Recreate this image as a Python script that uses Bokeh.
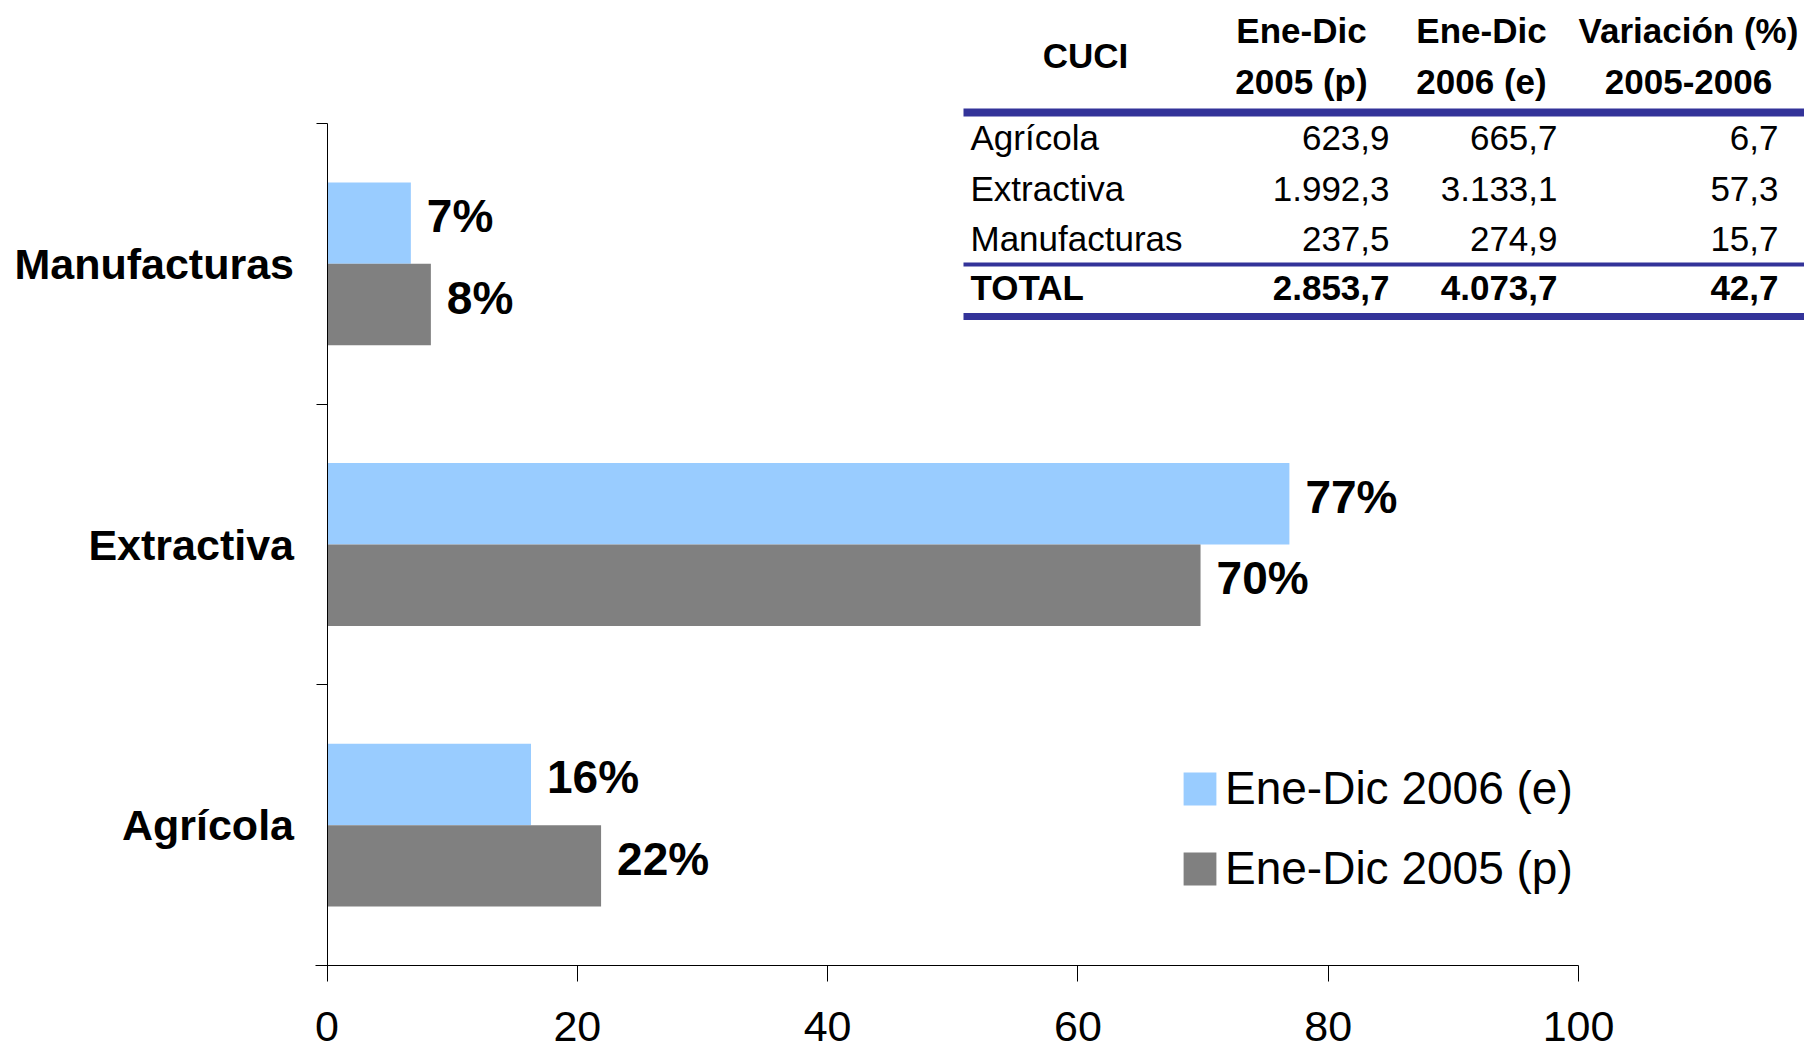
from bokeh.plotting import figure
from bokeh.models import Range1d, FixedTicker, Legend, LegendItem
from bokeh.core.properties import value
from bokeh.embed import file_html
from bokeh.resources import INLINE
import numpy as np

# ---------------- data ----------------
categories = ["Agrícola", "Extractiva", "Manufacturas"]
share_2006 = [16.3, 76.9, 6.7]      # Ene-Dic 2006 (e), %
share_2005 = [21.9, 69.8, 8.3]      # Ene-Dic 2005 (p), %
x_ticks = [0, 20, 40, 60, 80, 100]
series_labels = ["Ene-Dic 2006 (e)", "Ene-Dic 2005 (p)"]

table_head_first = "CUCI"
table_head_line1 = ["Ene-Dic", "Ene-Dic", "Variación (%)"]
table_head_line2 = ["2005 (p)", "2006 (e)", "2005-2006"]
table_rows = ["Agrícola", "Extractiva", "Manufacturas"]
table_2005 = [623.9, 1992.3, 237.5]
table_2006 = [665.7, 3133.1, 274.9]
table_var = [6.7, 57.3, 15.7]
total_label = "TOTAL"
total_2005 = 2853.7
total_2006 = 4073.7
total_var = 42.7

# ---------------- geometry (canvas pixels) ----------------
W, H = 1804, 1056
X0, X100 = 326.5, 1578.0     # pixel position of x=0 and x=100
Y0, Y3 = 965.0, 123.0        # pixel position of y=0 and y=3
FONT = "Liberation Sans"
LIGHT = "#99CCFF"
DARK = "#808080"
NAVY = "#333399"

sx = (X100 - X0) / 100.0
sy = (Y0 - Y3) / 3.0

p = figure(width=W, height=H, output_backend="svg", toolbar_location=None,
           x_range=Range1d(-X0 / sx, (W - X0) / sx),
           y_range=Range1d(-(H - Y0) / sy, Y0 / sy),
           min_border=0)
p.outline_line_color = None
p.xgrid.visible = False
p.ygrid.visible = False
p.background_fill_color = "white"
p.border_fill_color = "white"

# pixel coordinate ranges for the table (top-down y)
p.extra_x_ranges["px"] = Range1d(0, W)
p.extra_y_ranges["px"] = Range1d(H, 0)

# ---------------- bars ----------------
centers = np.arange(len(categories)) + 0.5
bar_h = 0.29
y06 = centers + bar_h / 2
y05 = centers - bar_h / 2

r06 = p.hbar(y=y06, left=0, right=share_2006, height=bar_h,
             fill_color=LIGHT, line_color=None)
r05 = p.hbar(y=y05, left=0, right=share_2005, height=bar_h,
             fill_color=DARK, line_color=None)

for ys, vals in ((y06, share_2006), (y05, share_2005)):
    p.text(x=vals, y=ys, text=[f"{round(v)}%" for v in vals],
           x_offset=16, y_offset=-7, text_baseline="middle", text_align="left",
           text_font=value(FONT), text_font_style="bold",
           text_font_size="46px", text_color="black")

# ---------------- axes ----------------
xa = p.xaxis[0]
xa.fixed_location = 0
xa.ticker = FixedTicker(ticks=x_ticks)
xa.bounds = (-0.9, 100)
xa.major_tick_out = 16
xa.major_tick_in = 0
xa.minor_tick_out = 0
xa.minor_tick_in = 0
xa.axis_line_color = "black"
xa.major_tick_line_color = "black"
xa.major_label_text_font = FONT
xa.major_label_text_font_size = "43px"
xa.major_label_text_color = "black"
xa.major_label_standoff = 30

ya = p.yaxis[0]
ya.fixed_location = 0
ya.ticker = FixedTicker(ticks=list(centers),
                        minor_ticks=list(np.arange(len(categories) + 1)))
ya.bounds = (0, len(categories))
ya.major_label_overrides = {float(c): name for c, name in zip(centers, categories)}
ya.major_tick_out = 0
ya.major_tick_in = 0
ya.minor_tick_out = 11
ya.minor_tick_in = 0
ya.axis_line_color = "black"
ya.minor_tick_line_color = "black"
ya.major_label_text_font = FONT
ya.major_label_text_font_style = "bold"
ya.major_label_text_font_size = "43px"
ya.major_label_text_color = "black"
ya.major_label_standoff = 22

# ---------------- legend ----------------
legend = Legend(items=[LegendItem(label=series_labels[0], renderers=[r06]),
                       LegendItem(label=series_labels[1], renderers=[r05])],
                location=(1179, 161), orientation="vertical",
                glyph_width=41, glyph_height=41, label_standoff=5,
                spacing=26, padding=0, margin=0,
                border_line_color=None, background_fill_alpha=0,
                label_text_font=FONT, label_text_font_size="46px",
                label_text_color="black")
p.add_layout(legend)

# ---------------- table ----------------
def es(v):
    s = f"{v:,.1f}"
    return s.replace(",", "X").replace(".", ",").replace("X", ".")

TX = dict(x_range_name="px", y_range_name="px", text_font=value(FONT),
          text_color="black", text_baseline="middle")

col_centers = [1301, 1481, 1688]
col_rights = [1389, 1557, 1778]
row_ys = [137, 188, 238]
total_y = 287
label_x = 970

p.text(x=[1085], y=[55], text=[table_head_first], text_align="center",
       text_font_style="bold", text_font_size="35px", **TX)
p.text(x=col_centers, y=[30] * 3, text=table_head_line1, text_align="center",
       text_font_style="bold", text_font_size="35px", **TX)
p.text(x=col_centers, y=[81] * 3, text=table_head_line2, text_align="center",
       text_font_style="bold", text_font_size="35px", **TX)

p.text(x=[label_x] * len(table_rows), y=row_ys, text=table_rows,
       text_align="left", text_font_size="35px", **TX)
for cx, vals in zip(col_rights, (table_2005, table_2006, table_var)):
    p.text(x=[cx] * len(vals), y=row_ys, text=[es(v) for v in vals],
           text_align="right", text_font_size="35px", **TX)

p.text(x=[label_x], y=[total_y], text=[total_label], text_align="left",
       text_font_style="bold", text_font_size="35px", **TX)
p.text(x=col_rights, y=[total_y] * 3,
       text=[es(total_2005), es(total_2006), es(total_var)],
       text_align="right", text_font_style="bold", text_font_size="35px", **TX)

p.segment(x0=[963, 963, 963], y0=[112, 264, 316], x1=[W, W, W], y1=[112, 264, 316],
          line_width=[8, 4, 7], line_color=NAVY,
          x_range_name="px", y_range_name="px")

open("out.html", "w").write(file_html(p, INLINE))
